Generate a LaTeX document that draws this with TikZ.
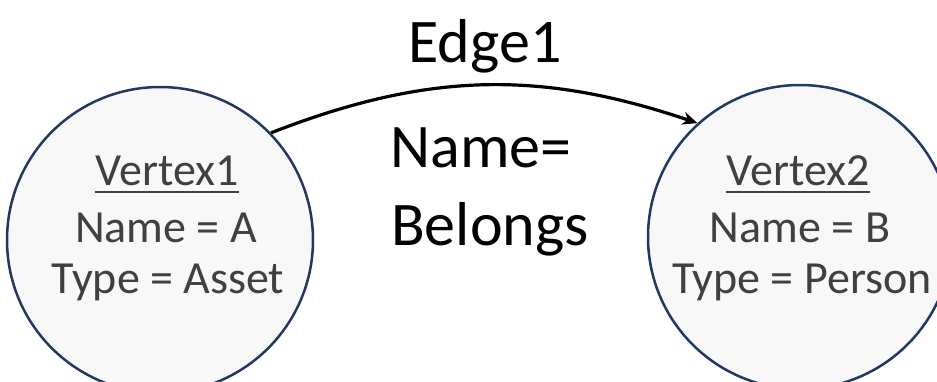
\documentclass[tikz,border=0pt]{standalone}
\usepackage{fontspec}
\setmainfont{Carlito}
\usetikzlibrary{arrows.meta}
\definecolor{navy}{HTML}{1F3864}
\definecolor{txtgray}{HTML}{404040}
\definecolor{fillgray}{HTML}{F8F8F8}
\begin{document}
\begin{tikzpicture}[x=1pt,y=-1pt,
  vertex/.style={circle, draw=navy, line width=2.5pt, fill=fillgray, minimum size=#1, inner sep=0pt},
  vtext/.style={anchor=base, text=txtgray, font=\fontsize{46}{52}\selectfont, inner sep=0pt},
  etext/.style={anchor=base, text=black, font=\fontsize{62}{70}\selectfont, inner sep=0pt},
  uline/.style={draw=txtgray, line width=2.5pt},
  edgeline/.style={line width=3.2pt, -{Stealth[length=15pt,width=13pt]}}]
\useasboundingbox (0,0) rectangle (937,381);
\node[vertex=306pt] (v1) at (160,240) {};
\node[vertex=304pt] (v2) at (800,237) {};
% left vertex text
\node[vtext] (t1) at (167,185) {Vertex1};
\node[vtext] (t2) at (166,242) {Name = A};
\node[vtext] (t3) at (168,293) {Type = Asset};
\draw[uline] ([yshift=-7pt]t1.base west) -- ([yshift=-7pt]t1.base east);
% right vertex text
\node[vtext] (r1) at (798,185) {Vertex2};
\node[vtext] (r2) at (800,242) {Name = B};
\node[vtext] (r3) at (802,293) {Type = Person};
\draw[uline] ([yshift=-7pt]r1.base west) -- ([yshift=-7pt]r1.base east);
% edge
\draw[edgeline] (v1.44) to[bend left=20] (v2.132);
\node[etext] (e1) at (485,62) {Edge1};
\node[etext] (e2) at (481,167) {Name=};
\node[etext] (e3) at (490,245) {Belongs};
\end{tikzpicture}
\end{document}
